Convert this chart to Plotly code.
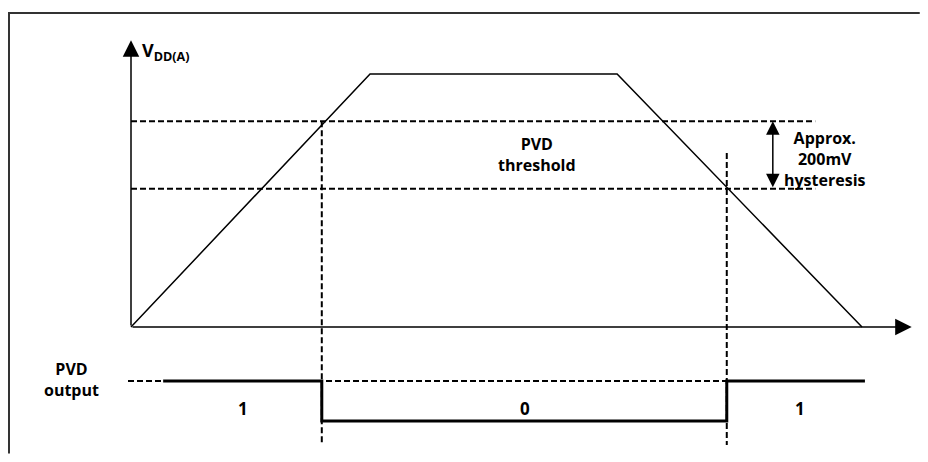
import plotly.graph_objects as go

# ---- data (arbitrary time / voltage units) ----
t_ramp = [0.0, 3.27, 6.65, 10.0]          # V_DD(A) trapezoid time points
v_ramp = [0.0, 3.0, 3.0, 0.0]             # V_DD(A) trapezoid voltages
v_th_high = 2.44                          # rising PVD threshold
v_th_low = 1.64                           # falling PVD threshold
t_th_end = 9.36                           # end of threshold guide lines
t_cross_up = 2.61                         # rising edge crosses upper threshold
t_cross_down = 8.15                       # falling edge crosses lower threshold
out_t = [0.44, 2.61, 2.61, 8.15, 8.15, 10.04]
out_state = [1, 1, 0, 0, 1, 1]
out_labels = ["1", "0", "1"]
out_label_t = [1.53, 5.39, 9.15]

# ---- layout helpers ----
W, H = 912, 446
X_RANGE = [-1.6826, 10.7934]
Y_RANGE = [-1.5060, 3.7827]
OUT_Y = {1: -0.64, 0: -1.115}
FONT = "Open Sans"
BLACK = "#000000"
DASH = "6px,3px"

fig = go.Figure()

# outer frame (top and left edges only are visible)
fig.add_trace(go.Scatter(x=[-1.669, -1.669, 10.79], y=[-1.50, 3.7235, 3.7235],
                         mode="lines", line=dict(color="#333333", width=2),
                         hoverinfo="skip", cliponaxis=False))
# trapezoid
fig.add_trace(go.Scatter(x=t_ramp, y=v_ramp, mode="lines",
                         line=dict(color=BLACK, width=1.5), hoverinfo="skip"))
# threshold dashed lines
for v in (v_th_high, v_th_low):
    fig.add_trace(go.Scatter(x=[0, t_th_end], y=[v, v], mode="lines",
                             line=dict(color=BLACK, width=2, dash=DASH),
                             hoverinfo="skip"))
# vertical dashed lines
fig.add_trace(go.Scatter(x=[t_cross_up, t_cross_up], y=[v_th_high, -1.40], mode="lines",
                         line=dict(color=BLACK, width=2, dash=DASH), hoverinfo="skip"))
fig.add_trace(go.Scatter(x=[t_cross_down, t_cross_down], y=[2.063, -1.40], mode="lines",
                         line=dict(color=BLACK, width=2, dash=DASH), hoverinfo="skip"))
# PVD output reference dashed line
fig.add_trace(go.Scatter(x=[-0.041, t_cross_down], y=[OUT_Y[1], OUT_Y[1]], mode="lines",
                         line=dict(color=BLACK, width=2, dash=DASH), hoverinfo="skip"))
# PVD output step
fig.add_trace(go.Scatter(x=out_t, y=[OUT_Y[s] for s in out_state], mode="lines",
                         line=dict(color=BLACK, width=3), hoverinfo="skip"))

ann = []
# axes arrows
ann.append(dict(x=0, y=3.40, ax=0, ay=0, xref="x", yref="y", axref="x", ayref="y",
                showarrow=True, arrowhead=2, arrowsize=2.2, arrowwidth=1.5,
                arrowcolor=BLACK, text="", standoff=0))
ann.append(dict(x=10.68, y=0, ax=0, ay=0, xref="x", yref="y", axref="x", ayref="y",
                showarrow=True, arrowhead=2, arrowsize=2.2, arrowwidth=1.5,
                arrowcolor=BLACK, text="", standoff=0))
# hysteresis double arrow
ann.append(dict(x=8.78, y=v_th_high, ax=8.78, ay=v_th_low, xref="x", yref="y",
                axref="x", ayref="y", showarrow=True, arrowhead=2, arrowside="end+start",
                arrowsize=1.8, arrowwidth=1.5, arrowcolor=BLACK, text="",
                standoff=0, startstandoff=0))


def label(text, x, y, size=16, xanchor="center"):
    ann.append(dict(x=x, y=y, xref="x", yref="y", showarrow=False, xanchor=xanchor,
                    yanchor="middle", align="center", text="<b>" + text + "</b>",
                    font=dict(family=FONT, size=size, color=BLACK)))


label("V<sub>DD(A)</sub>", 0.12, 3.27, size=18, xanchor="left")
label("PVD<br>threshold", 5.55, 2.04)
label("Approx.<br>200mV<br>hysteresis", 9.49, 1.99)
label("PVD<br>output", -0.82, -0.617)
for lab, tx in zip(out_labels, out_label_t):
    label(lab, tx, -0.97, size=17)

fig.update_layout(
    width=W, height=H,
    margin=dict(l=0, r=0, t=0, b=0),
    paper_bgcolor="white", plot_bgcolor="white",
    showlegend=False,
    xaxis=dict(range=X_RANGE, visible=False, fixedrange=True),
    yaxis=dict(range=Y_RANGE, visible=False, fixedrange=True),
    annotations=ann,
)

fig.write_html("out.html", config={"displayModeBar": False})
